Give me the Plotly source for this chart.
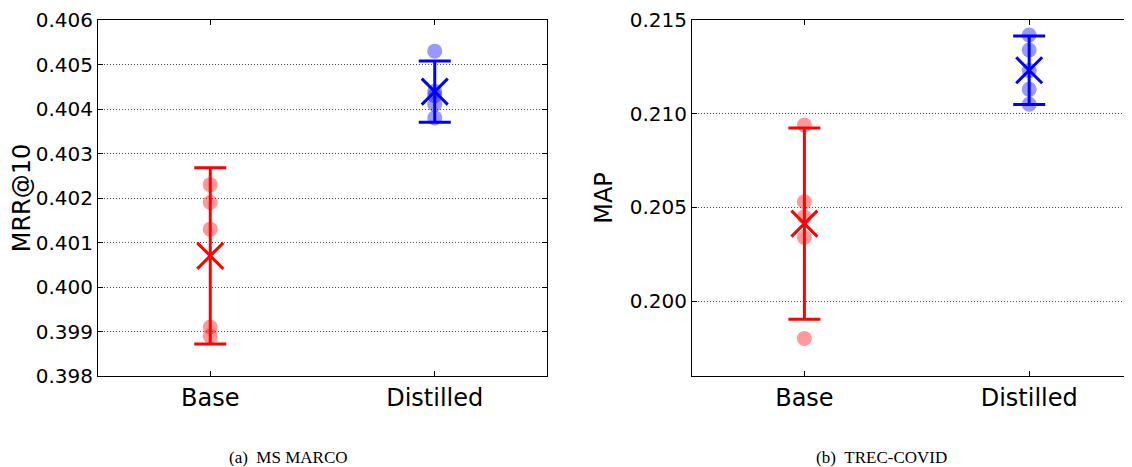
import plotly.graph_objects as go

# ---------------- data ----------------
categories = ["Base", "Distilled"]

msmarco_base_runs = [0.4023, 0.4019, 0.4013, 0.3991, 0.3989]
msmarco_distilled_runs = [0.4053, 0.4044, 0.4043, 0.4041, 0.4038]
msmarco_means = [0.4007, 0.40439]
msmarco_err = [0.00198, 0.00069]
msmarco_ticks = [0.398, 0.399, 0.400, 0.401, 0.402, 0.403, 0.404, 0.405, 0.406]

trec_base_runs = [0.2094, 0.2053, 0.2045, 0.2034, 0.1980]
trec_distilled_runs = [0.2142, 0.2134, 0.2123, 0.2113, 0.2105]
trec_means = [0.20413, 0.21232]
trec_err = [0.0051, 0.00183]
trec_ticks = [0.200, 0.205, 0.210, 0.215]

line_colors = ["#ff0000", "#0000ff"]
dot_colors = ["rgba(255,0,0,0.4)", "rgba(0,0,255,0.4)"]

W, H = 1132, 467
OFF = 8  # page body margin offset
FONT = "DejaVu Sans"

fig = go.Figure()

panels = [
    ("x", "y", [msmarco_base_runs, msmarco_distilled_runs], msmarco_means, msmarco_err),
    ("x2", "y2", [trec_base_runs, trec_distilled_runs], trec_means, trec_err),
]

for xa, ya, runs, means, errs in panels:
    # individual runs (translucent dots)
    for i, r in enumerate(runs):
        fig.add_trace(go.Scatter(
            x=[i] * len(r), y=r, mode="markers", xaxis=xa, yaxis=ya,
            marker=dict(size=15, color=dot_colors[i], line=dict(width=0)),
            showlegend=False, hoverinfo="y"))
    # mean with error bars
    for i in range(len(categories)):
        fig.add_trace(go.Scatter(
            x=[i], y=[means[i]], mode="markers", xaxis=xa, yaxis=ya,
            marker=dict(symbol="x-thin", size=26, color=line_colors[i],
                        line=dict(width=3, color=line_colors[i])),
            error_y=dict(type="data", array=[errs[i]], visible=True,
                         color=line_colors[i], thickness=3, width=16),
            showlegend=False, hoverinfo="y"))

ydom = [1 - (376 - OFF) / H, 1 - (20 - OFF) / H]

common_x = dict(
    tickmode="array", tickvals=list(range(len(categories))), ticktext=categories,
    ticks="inside", ticklen=5, tickcolor="black", showgrid=False, zeroline=False,
    showline=True, linecolor="black", linewidth=1, automargin=False,
    tickfont=dict(family=FONT, size=24, color="black"),
)
common_y = dict(
    ticks="inside", ticklen=5, tickcolor="black", tickformat=".3f",
    showgrid=True, gridcolor="rgba(0,0,0,0.7)", griddash="1px,2px", gridwidth=1,
    zeroline=False, showline=True, linecolor="black", linewidth=1, automargin=False,
    ticklabeloverflow="allow",
    tickfont=dict(family=FONT, size=20, color="black"),
)

fig.update_layout(
    width=W, height=H,
    margin=dict(l=0, r=0, t=0, b=0),
    paper_bgcolor="white", plot_bgcolor="white",
    xaxis=dict(domain=[(98 - OFF) / W, (547 - OFF) / W], range=[-0.5, 1.5], anchor="y",
               mirror="allticks", **common_x),
    yaxis=dict(domain=ydom, range=[0.398, 0.406], anchor="x",
               tickvals=msmarco_ticks, mirror="allticks",
               title=dict(text="MRR@10", font=dict(family=FONT, size=24, color="black"),
                          standoff=6),
               **common_y),
    xaxis2=dict(domain=[(692 - OFF) / W, 1.0], range=[-0.5, 1.493], anchor="y2",
                mirror="allticks", **common_x),
    yaxis2=dict(domain=ydom, range=[0.196, 0.215], anchor="x2",
                tickvals=trec_ticks, mirror=False,
                title=dict(text="MAP", font=dict(family=FONT, size=24, color="black"),
                           standoff=10),
                **common_y),
    annotations=[
        dict(text="(a)\u00a0\u00a0MS MARCO", x=(288 - OFF) / W, y=1 - (457 - OFF) / H,
             xref="paper", yref="paper",
             showarrow=False, xanchor="center", yanchor="middle",
             font=dict(family="Liberation Serif", size=17, color="black")),
        dict(text="(b)\u00a0\u00a0TREC-COVID", x=(881 - OFF) / W, y=1 - (457 - OFF) / H,
             xref="paper", yref="paper",
             showarrow=False, xanchor="center", yanchor="middle",
             font=dict(family="Liberation Serif", size=17, color="black")),
    ],
)

fig.write_html("out.html")
